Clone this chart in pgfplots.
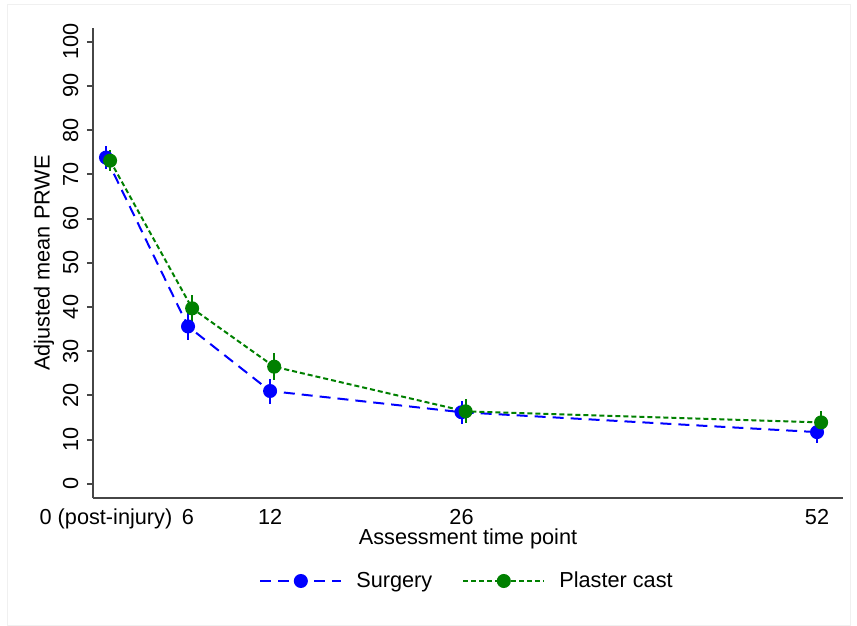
\documentclass[border=0pt]{standalone}
\usepackage{pgfplots}
\pgfplotsset{compat=1.18}
\usepackage{fontspec}
\setmainfont{Liberation Sans}
\definecolor{sblue}{RGB}{0,0,255}
\definecolor{sgreen}{RGB}{0,128,0}
\definecolor{axgray}{RGB}{70,70,70}
\newcommand{\ff}{\fontsize{10.85bp}{13bp}\selectfont}
\pgfplotstableread{
x y ep em
0 73.8 2.7 2.5
6 35.6 3.1 3.0
12 21.0 2.8 3.0
26 16.2 2.6 2.7
52 11.7 2.4 2.5
}\surgery
\pgfplotstableread{
x y ep em
0.3 73.1 2.5 2.3
6.3 39.7 3.0 3.0
12.3 26.5 3.0 3.0
26.3 16.4 2.8 2.7
52.3 13.9 2.5 2.4
}\plaster
\begin{document}
\begin{tikzpicture}
\path (0,0) rectangle (428.5bp,313bp);
\draw[black!6, line width=0.5bp] (3.5bp,0.5bp) rectangle (425bp,310.5bp);
\begin{axis}[
  at={(46.5bp,64bp)}, anchor=south west, scale only axis,
  width=375bp, height=235bp,
  xmin=-0.95, xmax=53.9, ymin=-3.2, ymax=103.1,
  axis x line*=bottom, axis y line*=left,
  axis line style={axgray, line width=1bp},
  xtick={0,6,12,26,52}, xticklabels={0 (post-injury),6,12,26,52},
  ytick={0,10,...,100},
  tick align=outside, major tick length=3bp,
  ytick style={axgray, line width=1bp},
  xtick style={draw=none},
  /pgf/number format/assume math mode=true,
  tick label style={font=\ff},
  xticklabel style={anchor=base, inner sep=0pt, yshift=-10bp},
  yticklabel style={rotate=90, anchor=base, inner sep=0pt},
  yticklabel shift=4.5bp,
  every axis x label/.style={at={(axis description cs:0.5,0)}, anchor=base, yshift=-23bp, font=\ff},
  every axis y label/.style={at={([xshift=-24.5bp]axis description cs:0,0.5)}, rotate=90, anchor=center, font=\ff},
  xlabel={Assessment time point},
  ylabel={Adjusted mean PRWE},
  legend columns=2,
  legend style={at={(axis description cs:0.5,0)}, anchor=center, yshift=-41.5bp, draw=none, font=\ff,
    /tikz/every odd column/.append style={column sep=5bp},
    /tikz/every even column/.append style={column sep=13bp}},
  legend image code/.code={\draw[mark repeat=2, mark phase=2] plot coordinates {(0bp,0bp)(20.25bp,0bp)(40.5bp,0bp)};},
]
\addplot[sblue, line width=1bp, dash pattern=on 5.5bp off 3.5bp, mark=*, mark size=3bp, mark options={solid},
  error bars/.cd, y dir=both, y explicit, error mark=none, error bar style={solid, line width=1bp}]
  table[x=x, y=y, y error plus=ep, y error minus=em] {\surgery};
\addlegendentry{Surgery}
\addplot[sgreen, line width=1bp, dash pattern=on 2.5bp off 1.5bp, mark=*, mark size=3bp, mark options={solid},
  error bars/.cd, y dir=both, y explicit, error mark=none, error bar style={solid, line width=1bp}]
  table[x=x, y=y, y error plus=ep, y error minus=em] {\plaster};
\addlegendentry{Plaster cast}
\end{axis}
\end{tikzpicture}
\end{document}
